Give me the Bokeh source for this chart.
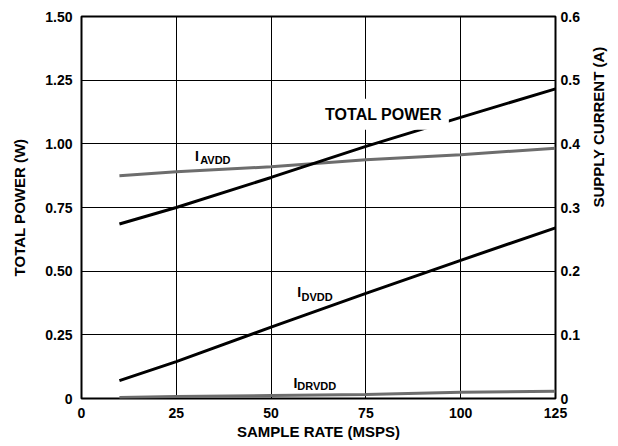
import math
from bokeh.plotting import figure
from bokeh.models import Range1d, LinearAxis, FixedTicker, Label
from bokeh.embed import file_html
from bokeh.resources import INLINE

# ---- data ----
sample_rate = [10, 25, 50, 75, 100, 125]
total_power = [0.685, 0.750, 0.868, 0.990, 1.104, 1.216]      # W (left axis)
i_avdd = [0.350, 0.356, 0.364, 0.375, 0.383, 0.393]           # A (right axis)
i_dvdd = [0.028, 0.058, 0.112, 0.165, 0.217, 0.268]           # A
i_drvdd = [0.0016, 0.0030, 0.0047, 0.0063, 0.0099, 0.0115]    # A

x_ticks = [0, 25, 50, 75, 100, 125]
power_ticks = [0, 0.25, 0.5, 0.75, 1.0, 1.25, 1.5]
power_tick_labels = ["0", "0.25", "0.50", "0.75", "1.00", "1.25", "1.50"]
current_ticks = [0, 0.1, 0.2, 0.3, 0.4, 0.5, 0.6]
current_tick_labels = ["0", "0.1", "0.2", "0.3", "0.4", "0.5", "0.6"]

FONT = "Liberation Sans"
BLACK = "#000000"
GRAY = "#6d6d6d"

p = figure(width=618, height=446, output_backend="svg", toolbar_location=None,
           x_range=Range1d(0, 125), y_range=Range1d(0, 1.5),
           min_border_left=81, min_border_right=60, min_border_top=16,
           min_border_bottom=48)
p.extra_y_ranges = {"current": Range1d(0, 0.6)}

p.outline_line_color = BLACK
p.outline_line_width = 2
p.background_fill_color = "white"
p.border_fill_color = "white"

# grid
p.xgrid.ticker = FixedTicker(ticks=x_ticks)
p.ygrid.ticker = FixedTicker(ticks=power_ticks)
for g in (p.xgrid, p.ygrid):
    g.grid_line_color = BLACK
    g.grid_line_width = 1
    g.grid_line_alpha = 1.0

def style_axis(ax, label, standoff, label_standoff):
    ax.axis_label = label
    ax.axis_label_text_font = FONT
    ax.axis_label_text_font_style = "bold"
    ax.axis_label_text_font_size = "15px"
    ax.axis_label_text_color = BLACK
    ax.axis_label_standoff = label_standoff
    ax.major_label_text_font = FONT
    ax.major_label_text_font_style = "bold"
    ax.major_label_text_font_size = "14px"
    ax.major_label_text_color = BLACK
    ax.major_label_standoff = standoff
    ax.major_tick_in = 0
    ax.major_tick_out = 0
    ax.minor_tick_in = 0
    ax.minor_tick_out = 0
    ax.axis_line_color = None

xax = p.xaxis[0]
xax.ticker = FixedTicker(ticks=x_ticks)
style_axis(xax, "SAMPLE RATE (MSPS)", 9, 2)

yax = p.yaxis[0]
yax.ticker = FixedTicker(ticks=power_ticks)
yax.major_label_overrides = {t: s for t, s in zip(power_ticks, power_tick_labels)}
style_axis(yax, "TOTAL POWER (W)", 9, 14)

rax = LinearAxis(y_range_name="current")
rax.ticker = FixedTicker(ticks=current_ticks)
rax.major_label_overrides = {t: s for t, s in zip(current_ticks, current_tick_labels)}
style_axis(rax, "SUPPLY CURRENT (A)", 5, 16)
rax.axis_label_orientation = math.pi / 2
p.add_layout(rax, "right")

# ---- lines ----
p.line(sample_rate, i_drvdd, y_range_name="current", line_color=GRAY, line_width=3)
p.line(sample_rate, i_avdd, y_range_name="current", line_color=GRAY, line_width=3)
p.line(sample_rate, i_dvdd, y_range_name="current", line_color=BLACK, line_width=3)
p.line(sample_rate, total_power, line_color=BLACK, line_width=3)

# ---- in-plot labels ----
def add_label(x, y, text, size, **kw):
    p.add_layout(Label(x=x, y=y, text=text, text_font=FONT, text_font_style="bold",
                       text_font_size=size, text_color=BLACK,
                       text_baseline="alphabetic", text_align="left", **kw))

add_label(62.4, 1.116, "TOTAL POWER", "16px",
          background_fill_color="white", padding=7)

add_label(29.9, 0.952, "I", "14px")
add_label(31.3, 0.937, "AVDD", "11px")

add_label(56.9, 0.418, "I", "14px")
add_label(58.0, 0.398, "DVDD", "11px")

add_label(55.9, 0.060, "I", "14px")
add_label(56.9, 0.051, "DRVDD", "11px")

open("out.html", "w").write(file_html(p, INLINE))
